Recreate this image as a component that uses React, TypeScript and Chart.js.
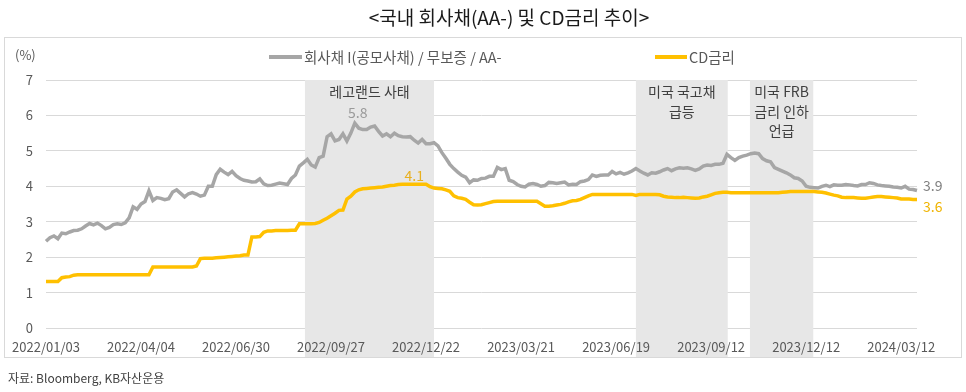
import { useEffect, useRef } from 'react';
import { Chart, registerables } from 'chart.js';

Chart.register(...registerables);

const TITLE = '<국내 회사채(AA-) 및 CD금리 추이>';
const SOURCE = '자료: Bloomberg, KB자산운용';
const UNIT = '(%)';
const seriesNames = ['회사채 I(공모사채) / 무보증 / AA-', 'CD금리'];

const tickLabels = [
  '2022/01/03', '2022/04/04', '2022/06/30', '2022/09/27', '2022/12/22',
  '2023/03/21', '2023/06/19', '2023/09/12', '2023/12/12', '2024/03/12',
];
const TICK_EVERY = 24;

// half-weekly samples, 회사채 AA- (%)
const corpBond = [
  2.45, 2.55, 2.6, 2.52, 2.68, 2.66, 2.71, 2.75, 2.76, 2.8,
  2.88, 2.95, 2.91, 2.96, 2.89, 2.8, 2.84, 2.92, 2.94, 2.92,
  2.97, 3.11, 3.42, 3.35, 3.5, 3.57, 3.87, 3.6, 3.68, 3.66,
  3.62, 3.65, 3.84, 3.9, 3.8, 3.7, 3.79, 3.82, 3.78, 3.72,
  3.75, 4.0, 4.0, 4.33, 4.48, 4.4, 4.33, 4.42, 4.3, 4.22,
  4.17, 4.15, 4.12, 4.13, 4.21, 4.07, 4.02, 4.03, 4.06, 4.09,
  4.07, 4.05, 4.22, 4.32, 4.57, 4.66, 4.76, 4.6, 4.54, 4.81,
  4.85, 5.4, 5.48, 5.28, 5.32, 5.48, 5.28, 5.5, 5.78, 5.64,
  5.6, 5.6, 5.67, 5.7, 5.55, 5.42, 5.48, 5.4, 5.5, 5.43,
  5.4, 5.39, 5.4, 5.3, 5.22, 5.32, 5.2, 5.2, 5.23, 5.14,
  4.95, 4.79, 4.62, 4.5, 4.4, 4.31, 4.26, 4.1, 4.18, 4.17,
  4.22, 4.23, 4.28, 4.28, 4.53, 4.47, 4.5, 4.17, 4.13, 4.05,
  4.0, 3.98, 4.06, 4.08, 4.05, 4.0, 4.02, 4.11, 4.1, 4.08,
  4.1, 4.12, 4.04, 4.06, 4.05, 4.13, 4.15, 4.19, 4.32, 4.28,
  4.31, 4.32, 4.32, 4.42, 4.35, 4.39, 4.34, 4.38, 4.43, 4.5,
  4.43, 4.37, 4.32, 4.38, 4.37, 4.41, 4.46, 4.5, 4.44, 4.49,
  4.52, 4.51, 4.52, 4.49, 4.45, 4.49, 4.57, 4.6, 4.59, 4.62,
  4.62, 4.65, 4.9, 4.81, 4.73, 4.81, 4.85, 4.88, 4.92, 4.94,
  4.92, 4.78, 4.72, 4.69, 4.53, 4.48, 4.43, 4.38, 4.32, 4.24,
  4.22, 4.15, 4.0, 3.97, 3.96, 3.95, 4.0, 4.03, 3.99, 4.04,
  4.03, 4.03, 4.05, 4.04, 4.02, 4.01, 4.05, 4.05, 4.1, 4.08,
  4.04, 4.02, 4.01, 4.0, 3.98, 3.97, 3.95, 4.0, 3.92, 3.91, 3.88,
];

// half-weekly samples, CD금리 (%)
const cdRate = [
  1.31, 1.31, 1.31, 1.31, 1.42, 1.44, 1.45, 1.49, 1.5, 1.5,
  1.5, 1.5, 1.5, 1.5, 1.5, 1.5, 1.5, 1.5, 1.5, 1.5,
  1.5, 1.5, 1.5, 1.5, 1.5, 1.5, 1.5, 1.72, 1.72, 1.72,
  1.72, 1.72, 1.72, 1.72, 1.72, 1.72, 1.72, 1.72, 1.75, 1.96,
  1.97, 1.97, 1.97, 1.98, 1.99, 2.0, 2.01, 2.02, 2.03, 2.04,
  2.06, 2.06, 2.57, 2.57, 2.58, 2.7, 2.74, 2.74, 2.75, 2.75,
  2.75, 2.75, 2.76, 2.76, 2.94, 2.94, 2.94, 2.94, 2.95, 2.98,
  3.04, 3.1, 3.17, 3.24, 3.32, 3.33, 3.64, 3.72, 3.84, 3.9,
  3.93, 3.94, 3.95, 3.96, 3.97, 3.98, 4.0, 4.02, 4.03, 4.05,
  4.06, 4.06, 4.06, 4.06, 4.06, 4.06, 4.06, 3.99, 3.95, 3.94,
  3.93, 3.9, 3.86, 3.73, 3.68, 3.66, 3.63, 3.55, 3.48, 3.47,
  3.48, 3.51, 3.54, 3.57, 3.58, 3.58, 3.58, 3.58, 3.58, 3.58,
  3.58, 3.58, 3.58, 3.58, 3.58, 3.51, 3.44, 3.44, 3.45, 3.47,
  3.49, 3.52, 3.56, 3.59, 3.6, 3.63, 3.68, 3.73, 3.77, 3.77,
  3.77, 3.77, 3.77, 3.77, 3.77, 3.77, 3.77, 3.77, 3.77, 3.74,
  3.77, 3.77, 3.77, 3.77, 3.77, 3.76, 3.72, 3.7, 3.69, 3.68,
  3.68, 3.69, 3.68, 3.67, 3.66, 3.67, 3.7, 3.72, 3.76, 3.8,
  3.82, 3.83, 3.83, 3.82, 3.82, 3.82, 3.82, 3.82, 3.82, 3.82,
  3.82, 3.82, 3.82, 3.82, 3.82, 3.82, 3.83, 3.84, 3.85, 3.85,
  3.85, 3.85, 3.85, 3.85, 3.85, 3.84, 3.83, 3.81, 3.78, 3.75,
  3.73, 3.69, 3.68, 3.68, 3.68, 3.67, 3.66, 3.66, 3.68, 3.7,
  3.71, 3.71, 3.7, 3.69, 3.68, 3.67, 3.64, 3.64, 3.64, 3.63, 3.63,
];

// shaded event periods (positions on the sample index)
const eventNames = [['레고랜드 사태'], ['미국 국고채', '급등'], ['미국 FRB', '금리 인하', '언급']];
const eventStart = [65.4, 149.0, 177.8];
const eventEnd = [98.0, 172.2, 193.8];

const FONT = '"Noto Sans CJK KR", "Noto Sans", sans-serif';
const GRAY = '#a6a6a6';
const YELLOW = '#ffc000';
const SHADE = '#e7e7e7';

const categoryLabels = corpBond.map((_, i) => (i % TICK_EVERY === 0 ? tickLabels[i / TICK_EVERY] ?? '' : ''));

const decor = {
  id: 'decor',
  beforeDraw(chart: any) {
    const { ctx, chartArea } = chart;
    const x = chart.scales.x;
    ctx.save();
    ctx.fillStyle = '#ffffff';
    ctx.fillRect(0, 0, chart.width, chart.height);
    ctx.strokeStyle = '#d9d9d9';
    ctx.lineWidth = 1;
    ctx.strokeRect(4.5, 37.5, 957, 320);
    ctx.fillStyle = SHADE;
    eventStart.forEach((s, k) => {
      const x0 = x.getPixelForValue(s);
      const x1 = x.getPixelForValue(eventEnd[k]);
      ctx.fillRect(x0, chartArea.bottom, x1 - x0, 357 - chartArea.bottom);
    });
    ctx.restore();
  },
  beforeDatasetsDraw(chart: any) {
    const { ctx, chartArea } = chart;
    const x = chart.scales.x;
    ctx.save();
    ctx.fillStyle = SHADE;
    eventStart.forEach((s, k) => {
      const x0 = x.getPixelForValue(s);
      const x1 = x.getPixelForValue(eventEnd[k]);
      ctx.fillRect(x0, chartArea.top, x1 - x0, chartArea.bottom - chartArea.top + 1);
    });
    ctx.restore();
  },
  afterDatasetsDraw(chart: any) {
    const { ctx, chartArea } = chart;
    const x = chart.scales.x;
    const y = chart.scales.y;
    ctx.save();
    // title
    ctx.fillStyle = '#1a1a1a';
    ctx.font = `19px ${FONT}`;
    ctx.textAlign = 'center';
    ctx.textBaseline = 'middle';
    ctx.fillText(TITLE, 509, 18);

    // unit
    ctx.fillStyle = '#595959';
    ctx.font = `13px ${FONT}`;
    ctx.textAlign = 'left';
    ctx.fillText(UNIT, 15, 55);

    // legend
    const legendItems = [
      { x0: 269, x1: 302, color: GRAY },
      { x0: 655, x1: 687, color: YELLOW },
    ];
    legendItems.forEach((it, k) => {
      ctx.strokeStyle = it.color;
      ctx.lineWidth = 4;
      ctx.beginPath();
      ctx.moveTo(it.x0, 57);
      ctx.lineTo(it.x1, 57);
      ctx.stroke();
      ctx.fillStyle = '#595959';
      ctx.font = `14.5px ${FONT}`;
      ctx.textAlign = 'left';
      ctx.fillText(seriesNames[k], it.x1 + 2, 57);
    });

    // event labels
    ctx.fillStyle = '#404040';
    ctx.font = `14px ${FONT}`;
    ctx.textAlign = 'center';
    eventNames.forEach((lines, k) => {
      const cx = (x.getPixelForValue(eventStart[k]) + x.getPixelForValue(eventEnd[k])) / 2;
      lines.forEach((line, j) => ctx.fillText(line, cx, chartArea.top + 12 + j * 19.5));
    });

    // peak labels
    const peak = (arr: number[]) => {
      const m = Math.max(...arr);
      const idx = arr.map((v, i) => (v === m ? i : -1)).filter((i) => i >= 0);
      const avg = idx.reduce((a, b) => a + b, 0) / idx.length;
      return { m, avg };
    };
    ctx.font = `14px ${FONT}`;
    const pg = peak(corpBond);
    ctx.fillStyle = '#9a9a9a';
    ctx.fillText(pg.m.toFixed(1), x.getPixelForValue(pg.avg) + 3, y.getPixelForValue(pg.m) - 11);
    const py = peak(cdRate);
    ctx.fillStyle = '#e8b020';
    ctx.fillText(py.m.toFixed(1), x.getPixelForValue(py.avg), y.getPixelForValue(py.m) - 8);

    // end labels
    const last = corpBond.length - 1;
    ctx.textAlign = 'left';
    ctx.fillStyle = '#7f7f7f';
    ctx.fillText(corpBond[last].toFixed(1), x.getPixelForValue(last) + 6, y.getPixelForValue(corpBond[last]) - 5);
    ctx.fillStyle = '#f0b400';
    ctx.fillText(cdRate[last].toFixed(1), x.getPixelForValue(last) + 6, y.getPixelForValue(cdRate[last]) + 7);

    // source
    ctx.fillStyle = '#404040';
    ctx.font = `12px ${FONT}`;
    ctx.fillText(SOURCE, 8, 378);
    ctx.restore();
  },
};

export default function App() {
  const ref = useRef<HTMLCanvasElement | null>(null);
  useEffect(() => {
    document.body.style.margin = '0';
    const canvas = ref.current!;
    const chart = new Chart(canvas, {
      type: 'line',
      data: {
        labels: categoryLabels,
        datasets: [
          { label: seriesNames[0], data: corpBond, borderColor: GRAY, borderWidth: 3.5, pointRadius: 0, tension: 0, order: 2 },
          { label: seriesNames[1], data: cdRate, borderColor: YELLOW, borderWidth: 3.5, pointRadius: 0, tension: 0, order: 1 },
        ],
      },
      options: {
        responsive: false,
        animation: false,
        devicePixelRatio: 1,
        layout: { padding: { top: 80, right: 49, left: 0, bottom: 0 } },
        plugins: { legend: { display: false }, title: { display: false }, tooltip: { enabled: false } },
        scales: {
          x: {
            type: 'category',
            grid: { display: false, drawTicks: false },
            border: { display: false },
            ticks: {
              autoSkip: false, maxRotation: 0, minRotation: 0, padding: 11,
              color: '#595959', font: { family: FONT, size: 13 },
            },
            afterFit(s: any) { s.height = 64; },
          },
          y: {
            min: 0, max: 7,
            ticks: { stepSize: 1, padding: 13, color: '#595959', font: { family: FONT, size: 13 } },
            grid: { color: '#d9d9d9', drawTicks: false, lineWidth: 1 },
            border: { display: false },
            afterFit(s: any) { s.width = 46; },
          },
        },
      },
      plugins: [decor],
    } as any);
    return () => chart.destroy();
  }, []);
  return <canvas ref={ref} width={966} height={392} style={{ display: 'block', width: 966, height: 392 }} />;
}
